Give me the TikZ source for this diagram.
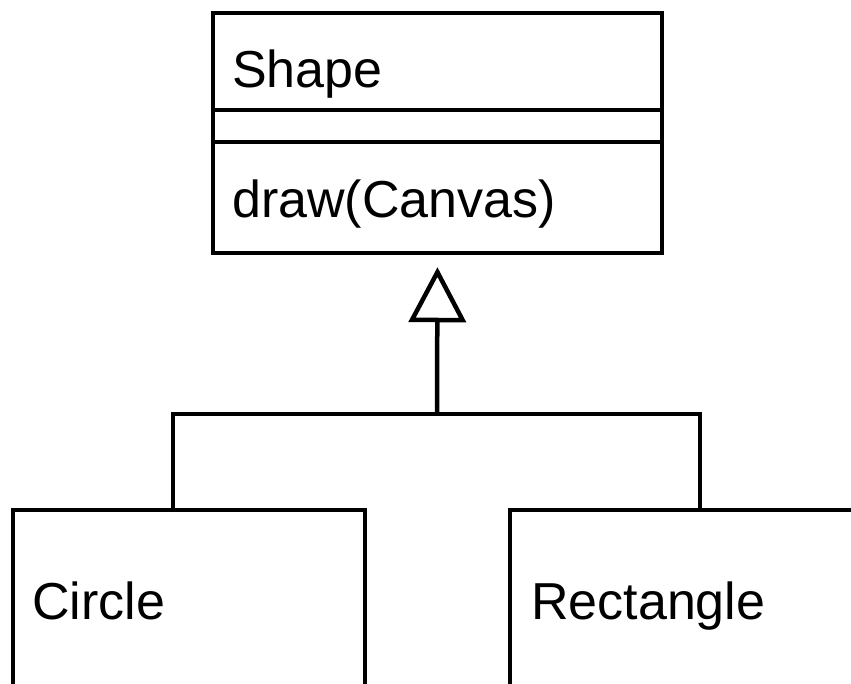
\documentclass[tikz,border=0pt]{standalone}
\usepackage{fontspec}
\setmainfont{Liberation Sans}
\usetikzlibrary{arrows.meta}
\tikzset{
  classbox/.style={draw, line width=4.5pt, inner sep=0pt},
  classtext/.style={anchor=base west, inner sep=0pt, font=\fontsize{52}{62}\selectfont},
  wire/.style={line width=4.5pt},
}
\begin{document}
\begin{tikzpicture}[x=1pt,y=-1pt]
    \useasboundingbox (0,0) rectangle (851,684);
    \clip (0,0) rectangle (851,684);

    % Shape class, three compartments
    \node[classbox, minimum width=449pt, minimum height=97pt] (shapename) at (437.5,61.5) {};
    \node[classbox, minimum width=449pt, minimum height=32pt] (shapeattr) at (437.5,126) {};
    \node[classbox, minimum width=449pt, minimum height=111pt] (shapeops) at (437.5,197.5) {};
    \node[classtext] (shapelabel) at (232,88) {Shape};
    \node[classtext] (opslabel) at (232,218) {draw(Canvas)};

    % subclasses
    \node[classbox, minimum width=352pt, minimum height=210pt] (circle) at (189,615) {};
    \node[classbox, minimum width=380pt, minimum height=210pt] (rect) at (700,615) {};
    \node[classtext] (circlelabel) at (32,619) {Circle};
    \node[classtext] (rectlabel) at (531,619) {Rectangle};

    % generalization
    \coordinate (jl) at (173,414);
    \coordinate (jm) at (437,414);
    \coordinate (jr) at (700,414);
    \draw[wire] (circle.north -| jl) -- (jl) -- (jr) -- (rect.north -| jr);
    \draw[wire, -{Triangle[open, length=55pt, width=57pt]}, shorten >=12pt] (jm) -- (shapeops.south);
\end{tikzpicture}
\end{document}
